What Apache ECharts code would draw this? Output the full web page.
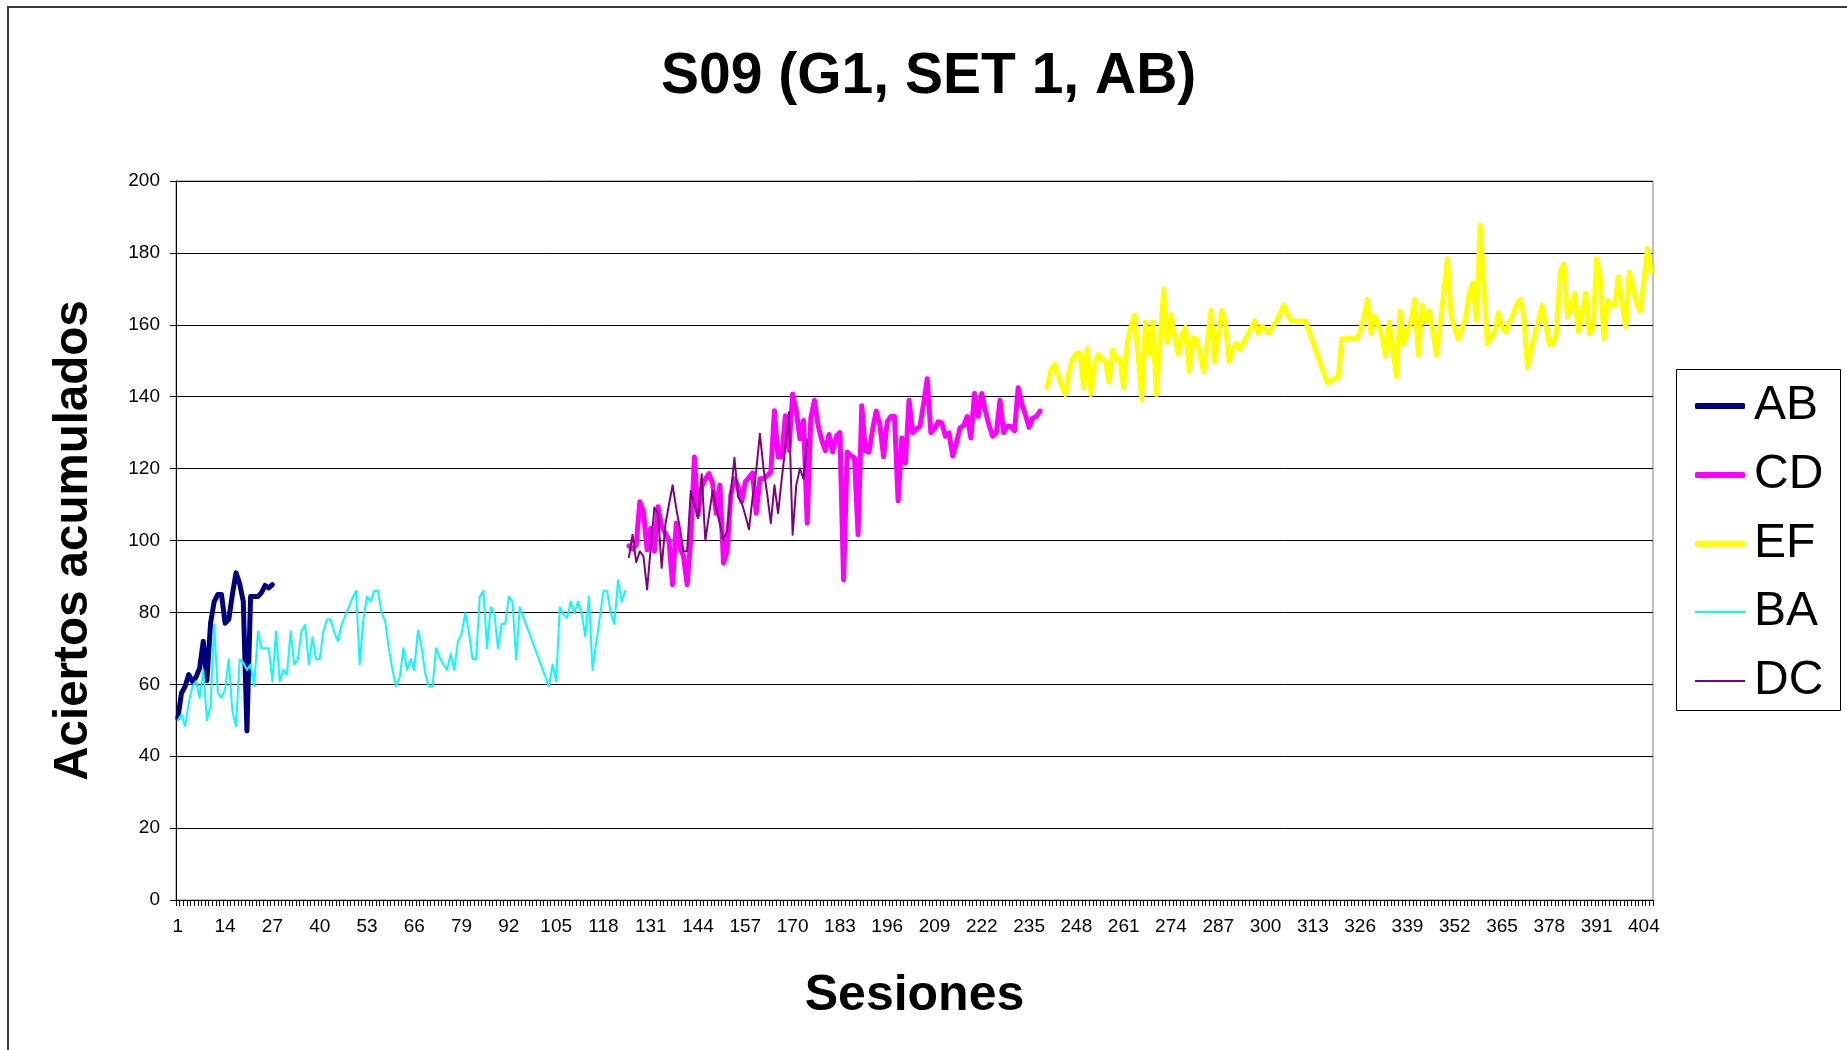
<!DOCTYPE html>
<html>
<head>
<meta charset="utf-8">
<script src="https://cdn.jsdelivr.net/npm/echarts@6/dist/echarts.min.js"></script>
<style>
  html, body { margin: 0; padding: 0; background: #ffffff; }
  #chart { width: 1847px; height: 1050px; }
</style>
</head>
<body>
<div id="chart"></div>
<script>
// Session axis: 406 sessions, labelled every 13th (1, 14, 27, ... 404)
const sessionCount = 406;
const sessions = Array.from({ length: sessionCount }, (_, i) => String(i + 1));

// Accumulated hits per session, one block per phase (first session index, values)
const abStart = 0;
const abValues = [50.6, 57.5, 59.4, 62.7, 60.8, 62, 64.5, 72, 61, 77,
  83, 85, 85, 77, 78, 85, 91, 88, 83, 47,
  84.4, 84.4, 84.4, 85.5, 87.5, 86.8, 87.7];

const baStart = 0;
const baValues = [50, 51.6, 48.3, 54.8, 59.4, 60.8, 56.2, 64, 50, 53.9,
  76.6, 57.6, 56.2, 58.5, 66.9, 52.5, 48.3, 66.9, 66, 64,
  65.5, 59.4, 74.7, 70, 70, 70, 60.8, 74.7, 60.8, 64,
  62.7, 74.7, 65.5, 66.9, 74.7, 76.6, 65.5, 73.1, 67, 67,
  74.7, 78, 78, 74.5, 72, 76.5, 79, 81.5, 84, 86,
  65.5, 78, 84.4, 83, 86, 86, 80, 77.5, 70, 64,
  59.4, 62, 70, 64, 67, 64, 75, 70.5, 63, 59.3,
  59.3, 70, 67.3, 65.5, 64, 68.5, 64, 72, 74, 79.8,
  74.7, 67, 67, 84.4, 86, 70, 81.4, 79.8, 70, 76.8,
  76.8, 84.4, 82.9, 67, 81.4, null, null, null, null, null,
  null, null, 59.4, 65.5, 60.8, 81.4, 79.5, 78.4, 83, 79.8,
  83, 79.8, 73.3, 84.4, 64, null, null, 86, 86, 79.8,
  76.8, 89, 83, 86];

const cdStart = 124;
const cdValues = [98.5, 97.6, 98.8, 110.8, 108, 97.4, 103.4, 97, 109.4, 104,
  102, 100, 87.7, 104.8, 98, 95.6, 87.7, 100.2, 123.2, 107.1,
  114.9, 117, 118.6, 115.9, 107.6, 115.4, 93.7, 97, 112.6, 117.2,
  115, 110.8, 116.3, 117.5, 118.8, 107.6, 117.2, 117.2, 118, 119,
  136.1, 123.2, 123.2, 134.7, 125.1, 140.7, 136.1, 128.3, 133.4, 104.8,
  134, 139, 132, 128, 125, 129.5, 124.6, 129, 130, 89,
  124.6, 123.6, 123, 101.6, 137.5, 125, 124.6, 131, 136, 132,
  123.3, 133, 134.5, 134.5, 111, 128.5, 121.5, 139, 130, 131,
  131.7, 138, 145, 130, 131, 133, 132.7, 129, 129.9, 123.5,
  127, 131.3, 132, 134.5, 128.5, 140.9, 134.5, 140.9, 136, 132,
  129, 130, 139, 130, 131.7, 131.7, 130.5, 142.5, 138, 135,
  131.5, 134, 134.5, 136];

const dcStart = 124;
const dcValues = [95.4, 101.6, 94, 97, 95.6, 86.4, 98, 109.2, 107.6, 92.4,
  104.3, 110, 115.4, 109, 103.4, 97, 97, 113.8, 110, 106.2,
  118.4, 100, 107, 113.8, 109, 104.5, 100, 102.9, 113, 123,
  112.2, 110.5, 107, 103.1, 112, 119.5, 129.7, 120, 113, 104.8,
  115.4, 107.6, 117, 126, 135.7, 101.6, 115.4, 120, 117.2, 128];

const efStart = 239;
const efValues = [142.5, 147.5, 149, 146, 143, 140.6, 147, 150.5, 152, 152,
  142.5, 153.4, 140.6, 148.5, 151.8, 150.4, 150, 144, 153, 150.4,
  150.4, 142.5, 155, 159.5, 162.7, 151, 139.2, 160.8, 151.8, 160.8,
  140.6, 155, 170, 155, 162.7, 157, 151.8, 157, 159.3, 147,
  156.2, 156.2, 151.5, 147, 155, 164, 149.7, 157, 164, 159.7,
  149.7, 153.4, 154.8, 153.1, 155, 157, 159, 161, 157.6, 159.7,
  158.5, 157.6, 159.5, 161, 163, 165.5, 163, 161, 161, 161,
  161, 161, null, null, null, null, null, 143.8, null, null,
  145.5, 156.1, 156.1, 156.1, 156.1, 156.1, 158, 162, 167, 157.5,
  162.4, 160, 157, 151.2, 160.8, 153, 145.5, 163.8, 154.7, 158,
  161.2, 167, 151.5, 165.4, 160.8, 163.8, 158, 151.5, 160, 169,
  178.4, 162.6, 159, 156.1, 159, 161.7, 168.7, 171.6, 161.2, 187.7,
  171, 154.7, 156.5, 158, 163.3, 159.4, 158, 160.5, 162.6, 165.5,
  167, 162.6, 148.2, 153, 157, 161, 165.4, 160, 154.6, 154.6,
  158, 174.7, 176.8, 162.2, 165, 168.7, 158, 163, 168.7, 157.5,
  158.9, 178.4, 173.3, 156.1, 166.8, 165.4, 165.4, 173.3, 166, 159.4,
  174.7, 170.5, 166, 163.8, 172, 181.2, 174.7];

// Spread a phase block over the full session axis
function placeOnAxis(start, values) {
  const out = new Array(sessionCount).fill(null);
  values.forEach((v, i) => { out[start + i] = v; });
  return out;
}

const FONT = "'Liberation Sans', Arial, Helvetica, sans-serif";

function lineSeries(name, color, width, start, values) {
  return {
    name: name,
    type: 'line',
    data: placeOnAxis(start, values),
    symbol: 'none',
    connectNulls: true,
    color: color,
    lineStyle: { color: color, width: width, cap: 'round', join: 'round' },
    emphasis: { disabled: true },
    animation: false
  };
}

const chart = echarts.init(document.getElementById('chart'), null, { renderer: 'canvas' });

chart.setOption({
  backgroundColor: '#ffffff',
  animation: false,
  title: {
    text: 'S09 (G1, SET 1, AB)',
    left: 656,
    top: 44,
    textStyle: { fontFamily: FONT, fontSize: 57, fontWeight: 'bold', color: '#000000' }
  },
  grid: {
    left: 176, right: 194, top: 181, bottom: 150,
    show: true, borderColor: '#808080', borderWidth: 1, backgroundColor: '#ffffff'
  },
  legend: [
    {
      data: ['AB', 'CD', 'EF'],
      orient: 'vertical',
      left: 1695, top: 382,
      padding: 0,
      itemWidth: 50, itemHeight: 6, itemGap: 21,
      icon: 'roundRect',
      selectedMode: false,
      textStyle: { fontFamily: FONT, fontSize: 48, lineHeight: 48, color: '#000000', padding: [0, 0, 0, 4] }
    },
    {
      data: ['BA', 'DC'],
      orient: 'vertical',
      left: 1695, top: 588,
      padding: 0,
      itemWidth: 50, itemHeight: 2, itemGap: 21,
      icon: 'rect',
      selectedMode: false,
      textStyle: { fontFamily: FONT, fontSize: 48, lineHeight: 48, color: '#000000', padding: [0, 0, 0, 4] }
    }
  ],
  xAxis: {
    type: 'category',
    data: sessions,
    boundaryGap: true,
    name: 'Sesiones',
    nameLocation: 'middle',
    nameGap: 71,
    nameTextStyle: { fontFamily: FONT, fontSize: 50, fontWeight: 'bold', color: '#000000' },
    axisLine: { show: true, lineStyle: { color: '#000000', width: 1 } },
    axisTick: { show: true, interval: 0, length: 6, lineStyle: { color: '#000000', width: 1 } },
    axisLabel: { interval: 12, margin: 17, fontFamily: FONT, fontSize: 19, color: '#000000', hideOverlap: false },
    splitLine: { show: false }
  },
  yAxis: {
    type: 'value',
    min: 0, max: 200, interval: 20,
    name: 'Aciertos acumulados',
    nameLocation: 'middle',
    nameRotate: 90,
    nameGap: 78,
    nameTextStyle: { fontFamily: FONT, fontSize: 47.5, fontWeight: 'bold', color: '#000000' },
    axisLine: { show: true, lineStyle: { color: '#000000', width: 1 } },
    axisTick: { show: true, length: 6, lineStyle: { color: '#000000', width: 1 } },
    axisLabel: { margin: 16, fontFamily: FONT, fontSize: 19, color: '#000000' },
    splitLine: { show: true, lineStyle: { color: '#000000', width: 1 } }
  },
  graphic: [
    {
      type: 'rect',
      shape: { x: 8, y: 7, width: 1900, height: 1100 },
      style: { fill: 'none', stroke: '#3a3a3a', lineWidth: 2 },
      silent: true
    },
    {
      type: 'rect',
      shape: { x: 1676.5, y: 369.5, width: 164, height: 341 },
      style: { fill: 'none', stroke: '#000000', lineWidth: 1 },
      silent: true
    }
  ],
  series: [
    lineSeries('AB', '#000080', 5, abStart, abValues),
    lineSeries('CD', '#ff00ff', 5, cdStart, cdValues),
    lineSeries('EF', '#ffff00', 5, efStart, efValues),
    lineSeries('BA', '#00ffff', 2, baStart, baValues),
    lineSeries('DC', '#800080', 2, dcStart, dcValues)
  ]
});
</script>
</body>
</html>
